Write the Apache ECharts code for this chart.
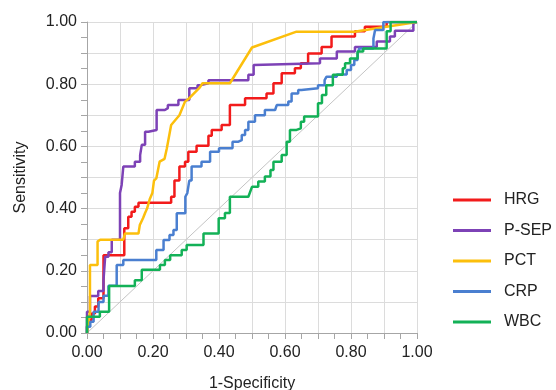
<!DOCTYPE html>
<html>
<head>
<meta charset="utf-8">
<script src="https://cdn.jsdelivr.net/npm/echarts@6/dist/echarts.min.js"></script>
<style>
  html, body { margin: 0; padding: 0; background: #fff; }
  #chart { width: 556px; height: 390px; }
</style>
</head>
<body>
<div id="chart"></div>
<script>
// [1-specificity, sensitivity] steps
const hrg = [[0,0],[0,0.02],[0.004,0.02],[0.004,0.042],[0.014,0.042],[0.014,0.063],[0.024,0.063],[0.024,0.085],[0.034,0.085],[0.034,0.112],[0.05,0.112],[0.05,0.25],[0.113,0.25],[0.113,0.337],[0.125,0.337],[0.125,0.374],[0.135,0.374],[0.135,0.39],[0.145,0.39],[0.145,0.406],[0.156,0.406],[0.156,0.419],[0.255,0.419],[0.255,0.438],[0.265,0.438],[0.265,0.49],[0.28,0.49],[0.28,0.535],[0.297,0.535],[0.297,0.551],[0.307,0.551],[0.307,0.583],[0.332,0.583],[0.332,0.602],[0.368,0.602],[0.368,0.634],[0.378,0.634],[0.378,0.653],[0.408,0.653],[0.408,0.669],[0.433,0.669],[0.433,0.733],[0.479,0.733],[0.479,0.755],[0.544,0.755],[0.544,0.77],[0.565,0.77],[0.565,0.803],[0.59,0.803],[0.59,0.835],[0.63,0.835],[0.63,0.851],[0.648,0.851],[0.648,0.867],[0.67,0.867],[0.67,0.899],[0.711,0.899],[0.711,0.92],[0.741,0.92],[0.741,0.953],[0.812,0.953],[0.812,0.97],[0.842,0.97],[0.842,0.985],[0.908,0.985],[0.908,1],[1,1]];
const psep = [[0,0],[0,0.068],[0.009,0.068],[0.009,0.119],[0.034,0.119],[0.034,0.135],[0.05,0.135],[0.05,0.17],[0.055,0.17],[0.055,0.245],[0.065,0.245],[0.065,0.26],[0.075,0.26],[0.075,0.30],[0.10,0.30],[0.10,0.45],[0.105,0.45],[0.105,0.476],[0.11,0.476],[0.11,0.535],[0.145,0.535],[0.145,0.551],[0.161,0.551],[0.161,0.572],[0.166,0.572],[0.166,0.605],[0.176,0.605],[0.176,0.647],[0.186,0.647],[0.186,0.653],[0.211,0.653],[0.211,0.717],[0.236,0.717],[0.236,0.723],[0.245,0.723],[0.245,0.733],[0.277,0.733],[0.277,0.749],[0.31,0.749],[0.31,0.787],[0.335,0.787],[0.335,0.797],[0.345,0.797],[0.345,0.803],[0.368,0.803],[0.368,0.813],[0.489,0.813],[0.489,0.83],[0.505,0.83],[0.505,0.862],[0.509,0.862],[0.509,0.867],[0.706,0.867],[0.706,0.883],[0.757,0.883],[0.757,0.905],[0.812,0.905],[0.812,0.92],[0.878,0.92],[0.878,0.937],[0.918,0.937],[0.918,0.953],[0.933,0.953],[0.933,0.972],[0.989,0.972],[0.989,1],[1,1]];
const pct = [[0,0],[0.009,0.07],[0.009,0.219],[0.032,0.219],[0.032,0.294],[0.04,0.30],[0.11,0.30],[0.115,0.32],[0.156,0.32],[0.16,0.347],[0.17,0.37],[0.176,0.386],[0.182,0.40],[0.19,0.43],[0.198,0.45],[0.203,0.49],[0.21,0.497],[0.22,0.551],[0.235,0.56],[0.242,0.594],[0.255,0.669],[0.28,0.70],[0.297,0.744],[0.31,0.755],[0.342,0.79],[0.35,0.803],[0.433,0.803],[0.50,0.918],[0.635,0.969],[0.81,0.969],[1,1]];
const crp = [[0,0],[0,0.02],[0.01,0.02],[0.01,0.036],[0.02,0.036],[0.02,0.068],[0.035,0.068],[0.035,0.10],[0.05,0.10],[0.05,0.12],[0.065,0.12],[0.065,0.152],[0.09,0.152],[0.09,0.219],[0.11,0.219],[0.11,0.235],[0.21,0.235],[0.21,0.267],[0.232,0.267],[0.232,0.299],[0.25,0.299],[0.25,0.315],[0.262,0.315],[0.262,0.331],[0.272,0.331],[0.272,0.385],[0.298,0.385],[0.298,0.438],[0.304,0.438],[0.304,0.45],[0.31,0.45],[0.31,0.49],[0.317,0.49],[0.317,0.535],[0.347,0.535],[0.347,0.551],[0.373,0.551],[0.373,0.583],[0.40,0.583],[0.40,0.594],[0.441,0.594],[0.441,0.615],[0.459,0.615],[0.459,0.62],[0.469,0.62],[0.469,0.637],[0.479,0.637],[0.479,0.653],[0.489,0.653],[0.489,0.679],[0.509,0.679],[0.509,0.70],[0.539,0.70],[0.539,0.717],[0.57,0.717],[0.57,0.723],[0.575,0.723],[0.575,0.733],[0.61,0.733],[0.61,0.744],[0.62,0.744],[0.62,0.77],[0.64,0.77],[0.64,0.781],[0.65,0.781],[0.65,0.787],[0.70,0.787],[0.70,0.797],[0.72,0.797],[0.72,0.813],[0.726,0.813],[0.726,0.824],[0.757,0.824],[0.757,0.831],[0.787,0.831],[0.787,0.846],[0.80,0.846],[0.80,0.862],[0.81,0.862],[0.81,0.878],[0.82,0.878],[0.82,0.899],[0.825,0.899],[0.825,0.915],[0.868,0.915],[0.868,0.947],[0.873,0.947],[0.873,0.974],[0.898,0.974],[0.898,1],[1,1]];
const wbc = [[0,0],[0,0.052],[0.039,0.052],[0.039,0.068],[0.067,0.068],[0.067,0.151],[0.145,0.151],[0.145,0.17],[0.166,0.17],[0.166,0.203],[0.221,0.203],[0.221,0.219],[0.236,0.219],[0.236,0.235],[0.252,0.235],[0.252,0.25],[0.287,0.25],[0.287,0.267],[0.302,0.267],[0.302,0.283],[0.353,0.283],[0.353,0.32],[0.399,0.32],[0.399,0.369],[0.418,0.369],[0.418,0.386],[0.433,0.386],[0.433,0.438],[0.489,0.438],[0.50,0.47],[0.519,0.47],[0.519,0.487],[0.539,0.487],[0.539,0.503],[0.556,0.503],[0.556,0.524],[0.565,0.524],[0.565,0.551],[0.59,0.551],[0.59,0.572],[0.605,0.572],[0.605,0.615],[0.615,0.615],[0.615,0.653],[0.635,0.653],[0.635,0.658],[0.648,0.658],[0.648,0.679],[0.658,0.679],[0.658,0.696],[0.70,0.696],[0.70,0.739],[0.712,0.739],[0.712,0.765],[0.725,0.765],[0.725,0.797],[0.745,0.797],[0.745,0.83],[0.775,0.83],[0.775,0.851],[0.782,0.851],[0.782,0.867],[0.797,0.867],[0.797,0.883],[0.82,0.883],[0.82,0.905],[0.837,0.905],[0.837,0.915],[0.908,0.915],[0.908,0.97],[0.92,0.97],[0.92,1],[1,1]];
const refLine = [[0,0],[1,1]];

const names = ["HRG", "P-SEP", "PCT", "CRP", "WBC"];
const curves = [hrg, psep, pct, crp, wbc];
const colors = ["#f21b1b", "#7d42b6", "#fcbf0c", "#4a7fd0", "#13b157"];

const font = "'Liberation Sans', Arial, sans-serif";
const labelFmt = (v) => (Math.round(v * 10) % 2 === 0 ? v.toFixed(2) : "");

function axis(name, gap, margin) {
  return {
    type: "value",
    min: 0,
    max: 1,
    interval: 0.1,
    name: name,
    nameLocation: "middle",
    nameGap: gap,
    nameTextStyle: { fontFamily: font, fontSize: 16, color: "#222" },
    axisLine: { show: true, lineStyle: { color: "#a6a6a6", width: 1 } },
    axisTick: { show: true, length: 6, lineStyle: { color: "#a6a6a6" } },
    minorTick: { show: true, splitNumber: 2, length: 6, lineStyle: { color: "#a6a6a6" } },
    axisLabel: { fontFamily: font, fontSize: 16, color: "#222", margin: margin, formatter: labelFmt },
    splitLine: { show: true, lineStyle: { color: "#dcdcdc", width: 1 } },
  };
}

const chart = echarts.init(document.getElementById("chart"));
const series = [{
  type: "line",
  data: refLine,
  symbol: "none",
  silent: true,
  lineStyle: { color: "#c4c4c4", width: 1 },
}];
curves.forEach((d, i) => {
  series.push({
    name: names[i],
    type: "line",
    data: d,
    symbol: "none",
    color: colors[i],
    lineStyle: { width: 2.5, color: colors[i] },
  });
});

chart.setOption({
  animation: false,
  backgroundColor: "#fff",
  grid: { left: 87, right: 139, top: 22, bottom: 57, outerBoundsMode: "none" },
  legend: {
    data: names,
    orient: "vertical",
    left: 453,
    top: 192,
    padding: 0,
    icon: "rect",
    itemWidth: 38,
    itemHeight: 3,
    itemGap: 14.5,
    textStyle: { fontFamily: font, fontSize: 16, lineHeight: 16, color: "#222", padding: [0, 0, 0, 8] },
  },
  xAxis: axis("1-Specificity", 43, 12),
  yAxis: axis("Sensitivity", 58, 10),
  series: series,
});
</script>
</body>
</html>
